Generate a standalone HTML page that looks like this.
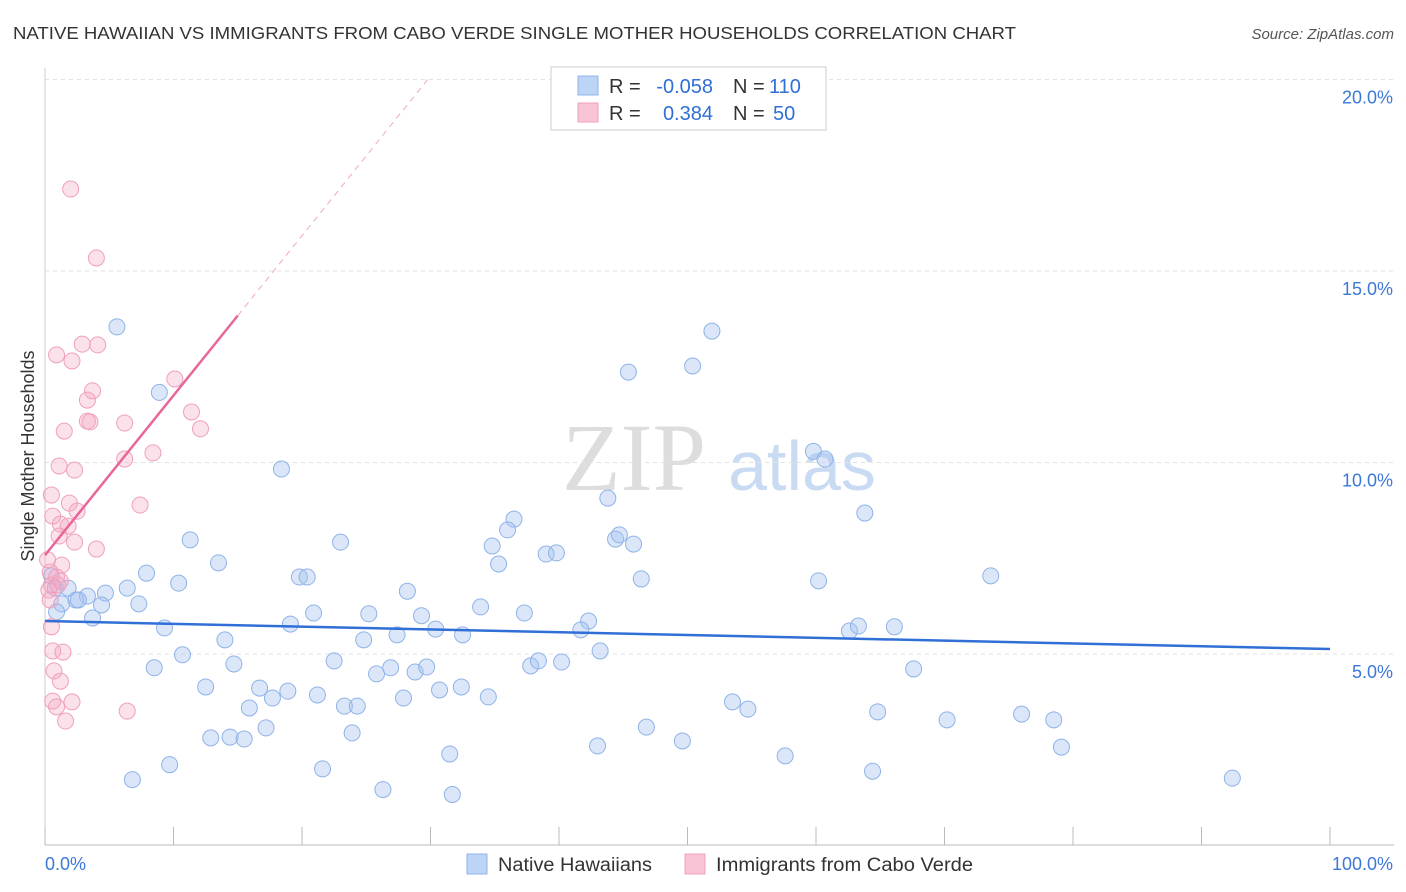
<!DOCTYPE html>
<html><head><meta charset="utf-8"><style>
body{margin:0;background:#fff;font-family:"Liberation Sans",sans-serif;}
svg{display:block}
</style></head><body>
<svg id="chart" width="1406" height="892" xmlns="http://www.w3.org/2000/svg">
<text x="13" y="39" font-size="17.5" fill="#333" textLength="1003" lengthAdjust="spacingAndGlyphs">NATIVE HAWAIIAN VS IMMIGRANTS FROM CABO VERDE SINGLE MOTHER HOUSEHOLDS CORRELATION CHART</text>
<text x="1394" y="39" font-size="15" fill="#555" font-style="italic" text-anchor="end">Source: ZipAtlas.com</text>
<g>
<text x="634" y="490" font-size="96" font-family="Liberation Serif,serif" fill="#ddd" text-anchor="middle">ZIP</text>
<text x="802" y="490" font-size="70" fill="#c9daf3" text-anchor="middle">atlas</text>
</g>
<g id="grid"></g><g id="axes"></g><g id="marks"></g>
<text transform="translate(34,456) rotate(-90)" font-size="18" fill="#333" text-anchor="middle">Single Mother Households</text>
<g font-size="20">
<rect x="551" y="67" width="275" height="63" fill="#fff" stroke="#ccc"/>
<rect x="578" y="76" width="20" height="19" fill="#bcd4f5" stroke="#8fb3e8"/>
<rect x="578" y="103" width="20" height="19" fill="#f9c4d6" stroke="#f0a0bd"/>
<text x="609" y="93" fill="#333">R =</text>
<text x="713" y="93" fill="#2f6fd6" text-anchor="end">-0.058</text>
<text x="733" y="93" fill="#333">N =</text>
<text x="769" y="93" fill="#2f6fd6">110</text>
<text x="609" y="120" fill="#333">R =</text>
<text x="713" y="120" fill="#2f6fd6" text-anchor="end">0.384</text>
<text x="733" y="120" fill="#333">N =</text>
<text x="773" y="120" fill="#2f6fd6">50</text>
</g>
<g>
<rect x="467" y="854" width="20" height="20" fill="#bcd4f5" stroke="#8fb3e8"/>
<text x="498" y="871" font-size="19" fill="#333" textLength="154" lengthAdjust="spacingAndGlyphs">Native Hawaiians</text>
<rect x="685" y="854" width="20" height="20" fill="#f9c4d6" stroke="#f0a0bd"/>
<text x="716" y="871" font-size="19" fill="#333" textLength="257" lengthAdjust="spacingAndGlyphs">Immigrants from Cabo Verde</text>
</g>
</svg>
<script>
const yTicks=[5,10,15,20];
const yTickLabels=["5.0%","10.0%","15.0%","20.0%"];
const xTicks=[0,10,20,30,40,50,60,70,80,90,100];
const blueX=[5.6,8.9,18.4,51.9,45.4,50.4,59.8,60.7,63.8,43.8,36.5,36.0,34.8,35.3,39.0,39.8,44.4,44.7,45.8,46.4,60.2,73.6,11.3,13.5,7.9,10.4,6.4,4.7,3.3,2.4,2.6,1.3,0.9,0.8,1.8,0.5,4.4,7.3,3.7,9.3,14.0,10.7,8.5,14.7,19.8,20.4,23.0,20.9,19.1,25.2,29.3,28.2,33.9,37.3,30.4,32.5,27.4,24.8,42.3,41.7,43.2,22.5,25.8,26.9,28.8,29.7,37.8,38.4,40.2,62.6,63.3,66.1,67.6,12.5,16.7,18.9,17.7,21.2,15.9,23.3,24.3,27.9,30.7,32.4,34.5,53.5,54.7,64.8,70.2,76.0,78.5,12.9,14.4,15.5,17.2,23.9,31.5,43.0,46.8,49.6,57.6,79.1,6.8,9.7,21.6,26.3,31.7,64.4,92.4];
const blueY=[13.54,11.83,9.83,13.43,12.36,12.52,10.29,10.09,8.68,9.07,8.52,8.24,7.82,7.35,7.61,7.64,8.00,8.11,7.87,6.96,6.91,7.04,7.98,7.38,7.11,6.85,6.72,6.59,6.51,6.41,6.41,6.31,6.10,6.72,6.72,7.04,6.28,6.31,5.94,5.68,5.37,4.98,4.64,4.74,7.01,7.01,7.92,6.07,5.78,6.05,6.00,6.64,6.23,6.07,5.65,5.50,5.50,5.37,5.86,5.63,5.08,4.82,4.48,4.64,4.53,4.66,4.69,4.82,4.79,5.60,5.73,5.71,4.61,4.14,4.11,4.03,3.85,3.93,3.59,3.64,3.64,3.85,4.06,4.14,3.88,3.75,3.56,3.49,3.28,3.43,3.28,2.81,2.83,2.78,3.07,2.94,2.39,2.60,3.09,2.73,2.34,2.57,1.72,2.11,2.00,1.46,1.33,1.94,1.76];
const pinkX=[2.0,4.0,0.9,2.1,2.9,4.1,3.7,3.3,3.3,3.5,6.2,1.5,10.1,11.4,12.1,6.2,8.4,1.1,2.3,0.5,1.9,2.5,0.6,1.2,1.8,1.1,7.4,2.3,4.0,1.3,0.4,0.9,0.5,1.2,0.3,0.4,0.5,0.6,1.4,0.7,1.2,0.6,2.1,0.9,1.6,6.4,1.0,0.2];
const pinkY=[17.14,15.34,12.81,12.65,13.09,13.07,11.87,11.63,11.08,11.06,11.03,10.82,12.18,11.32,10.88,10.09,10.25,9.91,9.80,9.15,8.94,8.73,8.60,8.39,8.34,8.08,8.89,7.92,7.74,7.32,7.14,7.01,6.80,6.91,6.67,6.41,5.71,5.08,5.05,4.56,4.29,3.77,3.75,3.62,3.25,3.51,6.80,7.46];
const blueTrend=[5.86,5.13];
const pinkTrend=[7.58,0.417];
const NS="http://www.w3.org/2000/svg";
const sx=v=>45+v*12.85, sy=v=>845.5-v*38.3;
function mk(tag,attrs,parent){const e=document.createElementNS(NS,tag);for(const k in attrs)e.setAttribute(k,attrs[k]);document.getElementById(parent).appendChild(e);return e;}
yTicks.forEach((t,i)=>{
 const l=mk('line',{x1:45,x2:1394,y1:sy(t),y2:sy(t),stroke:'#e2e2e2','stroke-dasharray':'4,4'},'grid');
 
 
 const tx=mk('text',{x:1393,y:sy(t)+24,'font-size':18,fill:'#3b78d8','text-anchor':'end'},'axes');
 tx.textContent=yTickLabels[i];
 
 
});
const ax=mk('line',{x1:45,x2:1394,y1:845,y2:845,stroke:'#bbb'},'axes');


const ay=mk('line',{x1:45,x2:45,y1:68,y2:845,stroke:'#ccc'},'axes');


xTicks.forEach(t=>{
 const l=mk('line',{x1:sx(t),x2:sx(t),y1:827,y2:845,stroke:'#bbb'},'axes');
 
 
});
const x0=mk('text',{x:45,y:870,'font-size':18,fill:'#3b78d8'},'axes');x0.textContent='0.0%';


const x1=mk('text',{x:1393,y:870,'font-size':18,fill:'#3b78d8','text-anchor':'end'},'axes');x1.textContent='100.0%';


blueX.forEach((v,i)=>{
 const c=mk('circle',{cx:sx(v),cy:sy(blueY[i]),r:8,fill:'rgba(164,196,240,0.4)',stroke:'#8fb3e8','stroke-width':1},'marks');
 
 
});
pinkX.forEach((v,i)=>{
 const c=mk('circle',{cx:sx(v),cy:sy(pinkY[i]),r:8,fill:'rgba(244,170,195,0.35)',stroke:'#f0a0bd','stroke-width':1},'marks');
 
 
});
const bt=mk('line',{x1:sx(0),y1:sy(blueTrend[0]),x2:sx(100),y2:sy(blueTrend[1]),stroke:'#2f6fd6','stroke-width':2.5},'marks');


const pt=mk('line',{x1:sx(0),y1:sy(pinkTrend[0]),x2:sx(15),y2:sy(pinkTrend[0]+pinkTrend[1]*15),stroke:'#e8679a','stroke-width':2.5},'marks');


const pd=mk('line',{x1:sx(15),y1:sy(pinkTrend[0]+pinkTrend[1]*15),x2:sx(30),y2:sy(pinkTrend[0]+pinkTrend[1]*30),stroke:'#f0a8c0','stroke-width':1,'stroke-dasharray':'6,5'},'marks');


</script>
</body></html>
